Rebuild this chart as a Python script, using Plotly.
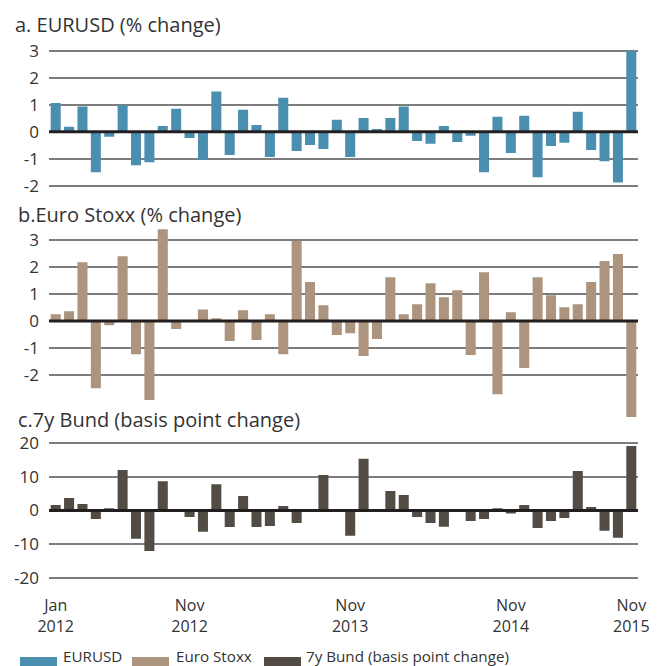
import plotly.graph_objects as go

# ECB meeting dates (categories)
dates = [
    "2012-01-12", "2012-02-09", "2012-03-08", "2012-04-04", "2012-05-03", "2012-06-06",
    "2012-07-05", "2012-08-02", "2012-09-06", "2012-10-04", "2012-11-08", "2012-12-06",
    "2013-01-10", "2013-02-07", "2013-03-07", "2013-04-04", "2013-05-02", "2013-06-06",
    "2013-07-04", "2013-08-01", "2013-09-05", "2013-10-02", "2013-11-07", "2013-12-05",
    "2014-01-09", "2014-02-06", "2014-03-06", "2014-04-03", "2014-05-08", "2014-06-05",
    "2014-07-03", "2014-08-07", "2014-09-04", "2014-10-02", "2014-11-06", "2014-12-04",
    "2015-01-22", "2015-03-05", "2015-04-15", "2015-06-03", "2015-07-16", "2015-09-03",
    "2015-10-22", "2015-12-03",
]

eurusd = [
    1.06, 0.18, 0.93, -1.50, -0.19, 0.98, -1.24, -1.13, 0.21, 0.85, -0.23, -1.04,
    1.49, -0.86, 0.81, 0.25, -0.94, 1.26, -0.71, -0.49, -0.64, 0.44, -0.94, 0.51,
    0.10, 0.51, 0.93, -0.34, -0.45, 0.21, -0.38, -0.15, -1.50, 0.55, -0.79, 0.59,
    -1.69, -0.53, -0.41, 0.74, -0.68, -1.09, -1.88, 3.01,
]

eurostoxx = [
    0.25, 0.36, 2.18, -2.49, -0.16, 2.40, -1.23, -2.93, 3.40, -0.30, -0.03, 0.43,
    0.10, -0.74, 0.40, -0.70, 0.25, -1.23, 2.97, 1.44, 0.58, -0.52, -0.45, -1.30,
    -0.67, 1.62, 0.25, 0.62, 1.40, 0.88, 1.14, -1.26, 1.81, -2.71, 0.32, -1.74,
    1.62, 0.95, 0.51, 0.62, 1.44, 2.22, 2.48, -3.56,
]

bund7y = [
    1.6, 3.7, 1.9, -2.5, 0.7, 12.0, -8.4, -12.0, 8.7, 0.1, -1.9, -6.3,
    7.8, -4.9, 4.3, -4.9, -4.6, 1.3, -3.7, 0.3, 10.5, -0.2, -7.5, 15.3,
    0.2, 5.8, 4.6, -1.9, -3.7, -4.8, -0.2, -3.1, -2.5, 0.7, -0.9, 1.6,
    -5.2, -3.1, -2.2, 11.7, 1.0, -6.0, -8.1, 19.1,
]

tick_idx = [0, 10, 22, 34, 43]
tick_text = ["Jan<br>2012", "Nov<br>2012", "Nov<br>2013", "Nov<br>2014", "Nov<br>2015"]

titles = ["a. EURUSD (% change)", "b.Euro Stoxx (% change)", "c.7y Bund (basis point change)"]
names = ["EURUSD", "Euro Stoxx", "7y Bund (basis point change)"]
colors = ["#4a8fb0", "#ad947e", "#524c45"]

W, H = 660, 666
OFF = 8  # page body margin offset
FONT = "Open Sans, Noto Sans, sans-serif"
TXT = "#333333"


def px(p):
    return (p - OFF) / W


def py(p):
    return 1 - (p - OFF) / H


x_dom = [px(49), px(638)]

# (top px, bottom px, range, tickvals)
panels = [
    (49.6, 186.8, [-2.04, 3.04], [-2, -1, 0, 1, 2, 3]),
    (227.85, 418.2, [-3.6, 3.45], [-2, -1, 0, 1, 2, 3]),
    (441.3, 579.7, [-20.5, 20.5], [-20, -10, 0, 10, 20]),
]

series = [eurusd, eurostoxx, bund7y]

fig = go.Figure()
layout = dict(
    template="none",
    width=W, height=H,
    margin=dict(l=0, r=0, t=0, b=0, pad=0),
    paper_bgcolor="white", plot_bgcolor="white",
    showlegend=False,
    bargap=0.25,
    font=dict(family=FONT, color=TXT),
)

shapes = []
annotations = []

for i, (top, bot, rng, tv) in enumerate(panels):
    n = "" if i == 0 else str(i + 1)
    fig.add_trace(go.Bar(
        x=dates, y=series[i], name=names[i],
        marker=dict(color=colors[i], line=dict(width=0)),
        xaxis="x" + n, yaxis="y" + n,
    ))
    xa = dict(
        domain=x_dom, anchor="y" + n, type="category",
        categoryorder="array", categoryarray=dates,
        range=[-0.5, len(dates) - 0.5],
        showgrid=False, zeroline=False, showline=False, ticks="",
        showticklabels=(i == 2), automargin=False,
    )
    if i == 2:
        xa.update(
            tickmode="array",
            tickvals=[dates[k] for k in tick_idx],
            ticktext=tick_text,
            tickfont=dict(size=16, color=TXT, family=FONT),
            ticklabelstandoff=14,
        )
    ya = dict(
        domain=[py(bot), py(top)], anchor="x" + n,
        range=rng, tickmode="array", tickvals=tv,
        ticktext=[str(v) for v in tv],
        showgrid=True, gridcolor="#7d7d7d", gridwidth=2,
        zeroline=False, showline=False, ticks="",
        tickfont=dict(size=17, color=TXT, family=FONT),
        ticklabelstandoff=9, automargin=False,
    )
    layout["xaxis" + n] = xa
    layout["yaxis" + n] = ya
    # thick zero line drawn above the bars
    shapes.append(dict(
        type="line", xref="x" + n + " domain", yref="y" + n,
        x0=0, x1=1, y0=0, y1=0,
        line=dict(color="#231f20", width=3), layer="above",
    ))

title_y = [24, 214, 419]
title_x = [14, 17, 17]
for t, yy, xx in zip(titles, title_y, title_x):
    annotations.append(dict(
        text=t, xref="paper", yref="paper", x=px(xx), y=py(yy),
        xanchor="left", yanchor="middle", showarrow=False, borderpad=0,
        font=dict(size=20, color=TXT, family=FONT),
    ))

# legend (manual)
leg = [(20, 62), (132, 175), (264, 305)]
for (sx, tx), nm, c in zip(leg, names, colors):
    shapes.append(dict(
        type="rect", xref="paper", yref="paper",
        x0=px(sx), x1=px(sx + 37), y0=py(666), y1=py(657),
        fillcolor=c, line=dict(width=0),
    ))
    annotations.append(dict(
        text=nm, xref="paper", yref="paper", x=px(tx), y=py(655.5),
        xanchor="left", yanchor="middle", showarrow=False, borderpad=0,
        font=dict(size=15.2, color=TXT, family=FONT),
    ))

layout["shapes"] = shapes
layout["annotations"] = annotations
fig.update_layout(**layout)
fig.write_html("out.html")
